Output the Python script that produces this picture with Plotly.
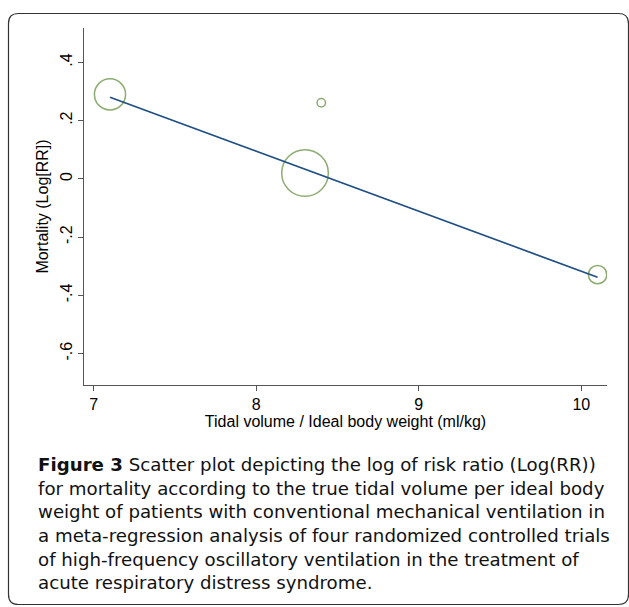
import plotly.graph_objects as go

# ---- data ----
tidal_volume = [7.1, 8.4, 8.3, 10.1]
log_rr = [0.29, 0.261, 0.02, -0.329]
study_weight = [27.2, 2.0, 61.2, 9.5]
fit_x = [7.1, 10.1]
fit_y = [0.28, -0.338]
x_ticks = [7, 8, 9, 10]
y_ticks = [-0.6, -0.4, -0.2, 0, 0.2, 0.4]
y_tick_labels = ["-.6", "-.4", "-.2", "0", ".2", ".4"]
x_title = "Tidal volume / Ideal body weight (ml/kg)"
y_title = "Mortality (Log[RR])"
caption_lines = [
    "<b>Figure 3</b> Scatter plot depicting the log of risk ratio (Log(RR))",
    "for mortality according to the true tidal volume per ideal body",
    "weight of patients with conventional mechanical ventilation in",
    "a meta-regression analysis of four randomized controlled trials",
    "of high-frequency oscillatory ventilation in the treatment of",
    "acute respiratory distress syndrome.",
]

W, H = 629, 607
L, R, T, B = 84, 22, 28, 222
pw, ph = W - L - R, H - T - B


def px(X):
    return (X - L) / pw


def py(Y):
    return (H - B - Y) / ph


fig = go.Figure()
fig.add_trace(go.Scatter(
    x=tidal_volume, y=log_rr, mode="markers",
    marker=dict(symbol="circle-open", size=study_weight, sizemode="area",
                sizeref=max(study_weight) / 33 ** 2, color="#5b8a34",
                line=dict(width=1.5, color="#5b8a34")),
    showlegend=False, hoverinfo="x+y"))
fig.add_trace(go.Scatter(
    x=fit_x, y=fit_y, mode="lines",
    line=dict(color="#1f4f82", width=1.7), showlegend=False))

axis_font = dict(family="Liberation Sans, Arial, sans-serif", size=16, color="#000")
fig.update_xaxes(range=[6.94, 10.158], tickvals=x_ticks, ticks="outside", ticklen=5,
                 tickcolor="#555", showline=True, linecolor="#555", linewidth=1.2,
                 showgrid=False, zeroline=False, tickfont=axis_font,
                 title=dict(text=x_title, font=axis_font, standoff=0))
fig.update_yaxes(range=[-0.708, 0.518], tickvals=y_ticks, ticktext=y_tick_labels,
                 tickangle=-90, ticks="outside", ticklen=5, tickcolor="#555",
                 showline=True, linecolor="#555", linewidth=1.2, showgrid=False,
                 zeroline=False, tickfont=axis_font,
                 title=dict(text=y_title, font=axis_font, standoff=4))

# rounded border
x0, y0, x1, y1, r = 8.5, 13.5, 628.5, 604.5, 10
pts = (f"M {px(x0 + r)} {py(y0)} L {px(x1 - r)} {py(y0)} "
       f"Q {px(x1)} {py(y0)} {px(x1)} {py(y0 + r)} L {px(x1)} {py(y1 - r)} "
       f"Q {px(x1)} {py(y1)} {px(x1 - r)} {py(y1)} L {px(x0 + r)} {py(y1)} "
       f"Q {px(x0)} {py(y1)} {px(x0)} {py(y1 - r)} L {px(x0)} {py(y0 + r)} "
       f"Q {px(x0)} {py(y0)} {px(x0 + r)} {py(y0)} Z")
fig.add_shape(type="path", path=pts, xref="paper", yref="paper",
              line=dict(color="#333", width=1.2))

cap_font = dict(family="DejaVu Sans, sans-serif", size=18.2, color="#111")
fig.add_annotation(text="<br>".join(caption_lines), xref="paper", yref="paper",
                   x=px(36), y=py(523), xanchor="left", yanchor="middle",
                   showarrow=False, font=cap_font, align="left")

fig.update_layout(width=W, height=H, margin=dict(l=L, r=R, t=T, b=B),
                  plot_bgcolor="white", paper_bgcolor="white")
fig.write_html("out.html", config={"displayModeBar": False},
               post_script="document.body.style.margin='0';document.body.style.overflow='hidden';")
